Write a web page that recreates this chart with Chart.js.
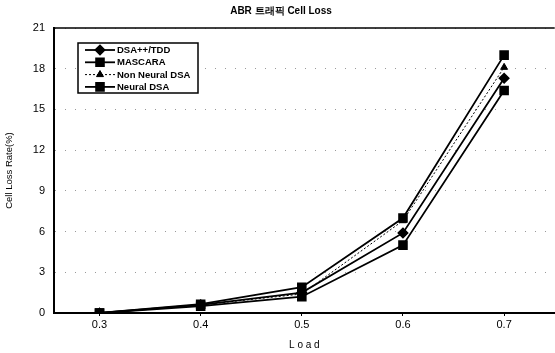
<!DOCTYPE html>
<html>
<head>
<meta charset="utf-8">
<script src="https://cdn.jsdelivr.net/npm/chart.js@4"></script>
<style>
  html, body { margin: 0; padding: 0; background: #fff; overflow: hidden; }
  #wrap { width: 562px; height: 353px; }
</style>
</head>
<body>
<div id="wrap"><canvas id="c"></canvas></div>
<script>
var loads = [0.3, 0.4, 0.5, 0.6, 0.7];
var yTicks = [0, 3, 6, 9, 12, 15, 18, 21];
var seriesNames = ["DSA++/TDD", "MASCARA", "Non Neural DSA", "Neural DSA"];
var dsaTdd = [0, 0.6, 1.5, 5.9, 17.3];
var mascara = [0, 0.65, 1.9, 7.0, 19.0];
var nonNeural = [0, 0.6, 1.4, 6.8, 18.1];
var neural = [0, 0.5, 1.2, 5.0, 16.4];

function pts(vals) {
  return loads.map(function (x, i) { return { x: x, y: vals[i] }; });
}

var FONT = "'Liberation Sans', Arial, sans-serif";

// legend box drawn inside the plot, like the original
var boxLegend = {
  id: 'boxLegend',
  afterDraw: function (chart) {
    var ctx = chart.ctx;
    var area = chart.chartArea;
    ctx.save();
    // top frame line
    ctx.strokeStyle = '#000';
    ctx.lineWidth = 1.5;
    ctx.beginPath();
    ctx.moveTo(area.left, area.top);
    ctx.lineTo(area.right, area.top);
    ctx.stroke();

    var x0 = 78, y0 = 43, w = 120, h = 50;
    ctx.fillStyle = '#fff';
    ctx.fillRect(x0, y0, w, h);
    ctx.lineWidth = 1.5;
    ctx.strokeRect(x0, y0, w, h);
    ctx.font = 'bold 9.5px ' + FONT;
    ctx.textBaseline = 'middle';
    chart.data.datasets.forEach(function (ds, i) {
      var y = y0 + 7 + i * 12.3;
      ctx.strokeStyle = '#000';
      ctx.lineWidth = ds.borderWidth;
      ctx.setLineDash(ds.borderDash || []);
      ctx.beginPath();
      ctx.moveTo(x0 + 7, y);
      ctx.lineTo(x0 + 37, y);
      ctx.stroke();
      ctx.setLineDash([]);
      Chart.helpers.drawPoint(ctx, {
        pointStyle: ds.pointStyle,
        radius: ds.pointRadius,
        borderWidth: 1
      }, x0 + 22, y);
      ctx.fillStyle = '#000';
      ctx.fill();
      ctx.fillText(ds.label, x0 + 39, y + 0.5);
    });
    ctx.restore();
  }
};

var ctx = document.getElementById('c');

new Chart(ctx, {
  type: 'line',
  data: {
    datasets: [
      { label: seriesNames[0], data: pts(dsaTdd), pointStyle: 'rectRot', pointRadius: 4.5,
        borderColor: '#000', backgroundColor: '#000', borderWidth: 1.8 },
      { label: seriesNames[1], data: pts(mascara), pointStyle: 'rect', pointRadius: 5.5,
        borderColor: '#000', backgroundColor: '#000', borderWidth: 1.8 },
      { label: seriesNames[2], data: pts(nonNeural), pointStyle: 'triangle', pointRadius: 4,
        borderColor: '#000', backgroundColor: '#000', borderWidth: 1, borderDash: [2, 2] },
      { label: seriesNames[3], data: pts(neural), pointStyle: 'rect', pointRadius: 5.5,
        borderColor: '#000', backgroundColor: '#000', borderWidth: 1.8 }
    ]
  },
  options: {
    responsive: true,
    maintainAspectRatio: false,
    animation: false,
    layout: { padding: 0 },
    plugins: {
      legend: { display: false },
      tooltip: { enabled: false },
      title: {
        display: true,
        text: 'ABR 트래픽 Cell Loss',
        color: '#000',
        font: { family: FONT, size: 10, weight: 'bold', lineHeight: 1.2 },
        padding: { top: 5, bottom: 11 }
      }
    },
    scales: {
      x: {
        type: 'linear',
        min: 0.255,
        max: 0.75,
        afterBuildTicks: function (scale) {
          scale.ticks = loads.map(function (v) { return { value: v }; });
        },
        afterFit: function (scale) { scale.height = 40; },
        ticks: {
          color: '#000',
          font: { family: FONT, size: 11 },
          padding: 2,
          callback: function (v) { return v.toFixed(1); }
        },
        grid: {
          drawOnChartArea: false,
          drawTicks: true,
          tickLength: 3,
          color: '#000'
        },
        border: { color: '#000', width: 2 },
        title: {
          display: true,
          text: 'L o a d',
          color: '#000',
          font: { family: FONT, size: 10 },
          padding: { top: 0, bottom: 2 }
        }
      },
      y: {
        min: 0,
        max: 21,
        afterBuildTicks: function (scale) {
          scale.ticks = yTicks.map(function (v) { return { value: v }; });
        },
        afterFit: function (scale) { scale.width = 54; },
        ticks: {
          color: '#000',
          font: { family: FONT, size: 11 },
          padding: 9
        },
        grid: {
          color: '#999',
          lineWidth: 1,
          drawTicks: false
        },
        border: { color: '#000', width: 2, dash: [1, 9] },
        title: {
          display: true,
          text: 'Cell Loss Rate(%)',
          color: '#000',
          font: { family: FONT, size: 9.5 },
          padding: { top: 4, bottom: 0 }
        }
      }
    },
    elements: { line: { tension: 0 } }
  },
  plugins: [boxLegend]
});
</script>
</body>
</html>
